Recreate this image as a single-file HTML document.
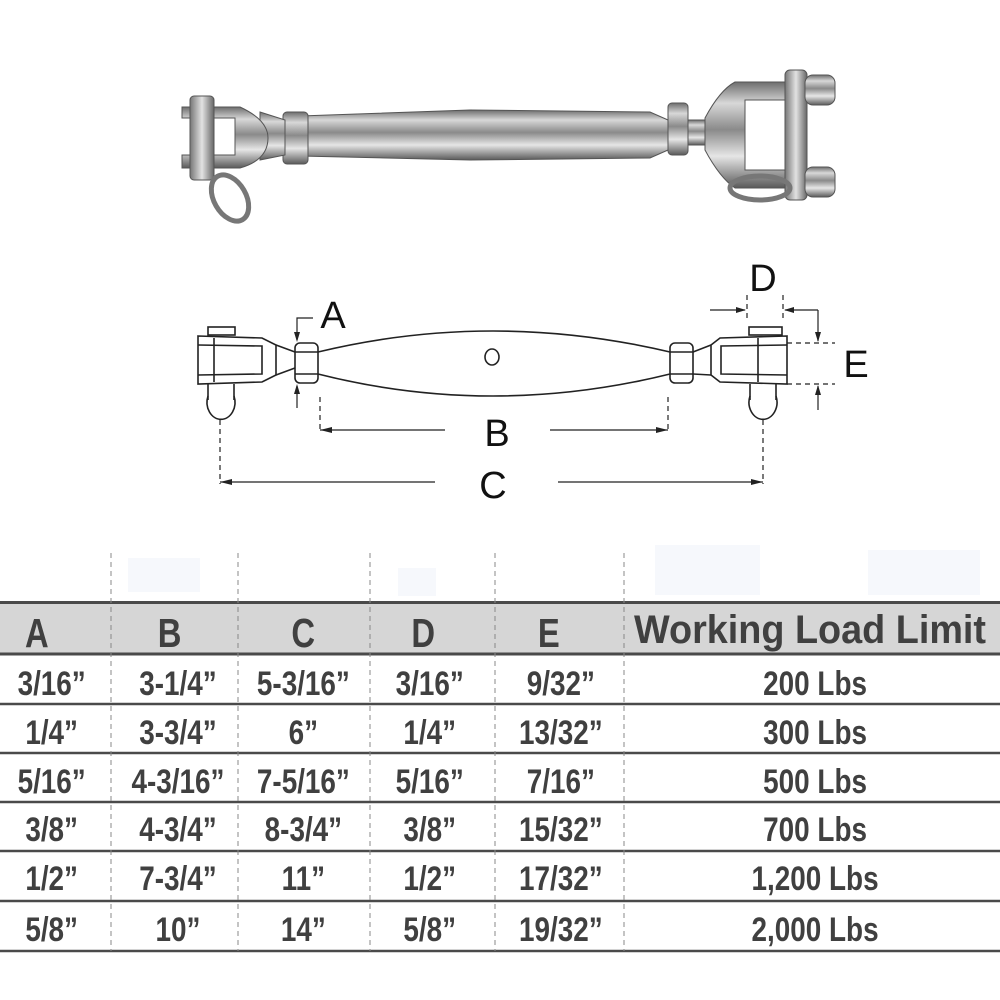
<!DOCTYPE html>
<html><head><meta charset="utf-8"><style>
html,body{margin:0;padding:0;background:#fff;width:1000px;height:1000px;overflow:hidden}
svg{display:block}
.t{font-family:"Liberation Sans",Arial,sans-serif;fill:#404040;font-weight:bold}
</style></head><body>
<svg width="1000" height="1000" viewBox="0 0 1000 1000" xmlns="http://www.w3.org/2000/svg">
<defs>
<linearGradient id="m" x1="0" y1="0" x2="0" y2="1">
<stop offset="0" stop-color="#6d6d6d"/><stop offset="0.2" stop-color="#d8d8d8"/><stop offset="0.45" stop-color="#8a8a8a"/><stop offset="0.7" stop-color="#e6e6e6"/><stop offset="1" stop-color="#5a5a5a"/></linearGradient>
<linearGradient id="m2" x1="0" y1="0" x2="1" y2="0">
<stop offset="0" stop-color="#777"/><stop offset="0.5" stop-color="#e2e2e2"/><stop offset="1" stop-color="#666"/></linearGradient>
</defs>
<!-- photo -->
<g stroke="#555" stroke-width="1">
<path d="M300 116 L470 110 L650 112 L668 120 L668 150 L650 158 L470 160 L300 156 Z" fill="url(#m)"/>
<rect x="283" y="112" width="25" height="52" rx="4" fill="url(#m)"/>
<rect x="668" y="103" width="20" height="52" rx="4" fill="url(#m)"/>
<rect x="688" y="120" width="20" height="25" fill="url(#m)"/>
<path d="M260 112 L285 120 L285 155 L260 160 Z" fill="url(#m)"/>
<path d="M182 107 L240 107 Q268 120 268 138 Q268 160 240 168 L182 168 L182 155 L235 155 L235 118 L182 118 Z" fill="url(#m)"/>
<rect x="190" y="96" width="24" height="84" rx="4" fill="url(#m2)"/>
<ellipse cx="230" cy="198" rx="16" ry="25" fill="none" stroke="#777" stroke-width="5" transform="rotate(-30 230 198)"/>
<path d="M705 118 Q720 90 735 82 L828 82 L828 100 L745 100 L745 170 L828 170 L828 188 L735 188 Q720 178 705 150 Z" fill="url(#m)"/>
<rect x="785" y="70" width="22" height="130" rx="5" fill="url(#m2)"/>
<rect x="805" y="75" width="30" height="30" rx="8" fill="url(#m)"/>
<rect x="805" y="167" width="30" height="30" rx="8" fill="url(#m)"/>
<ellipse cx="760" cy="188" rx="30" ry="12" fill="none" stroke="#777" stroke-width="5"/>
</g>
<!-- line drawing -->
<g fill="none" stroke="#222" stroke-width="1.6">
<rect x="208" y="327" width="27" height="8"/>
<path d="M198 336 L262 338 L276 345 L276 375 L262 382 L198 384 Z"/>
<path d="M198 345 L262 346 L262 374 L198 375"/>
<line x1="214" y1="338" x2="214" y2="382"/>
<path d="M276 345 L295 352 M276 375 L295 368"/>
<rect x="295" y="343" width="23" height="40" rx="5"/>
<line x1="295" y1="352" x2="318" y2="352"/><line x1="295" y1="374" x2="318" y2="374"/>
<path d="M318 352 Q492 310 670 352"/>
<path d="M318 374 Q492 418 670 374"/>
<ellipse cx="492" cy="357" rx="7" ry="8"/>
<rect x="670" y="343" width="23" height="40" rx="5"/>
<line x1="670" y1="352" x2="693" y2="352"/><line x1="670" y1="374" x2="693" y2="374"/>
<path d="M693 352 L711 345 M693 374 L711 375"/>
<path d="M787 336 L720 338 L711 345 L711 375 L720 382 L787 384 Z"/>
<path d="M787 345 L721 346 L721 374 L787 375"/>
<rect x="749" y="327" width="33" height="8"/>
<line x1="758" y1="338" x2="758" y2="382"/>
<path d="M208 396 A14 17 0 1 0 234 396"/><line x1="208" y1="384" x2="208" y2="400"/><line x1="234" y1="384" x2="234" y2="400"/>
<path d="M750 396 A14 17 0 1 0 776 396"/><line x1="750" y1="384" x2="750" y2="400"/><line x1="776" y1="384" x2="776" y2="400"/>
</g>
<g stroke="#222" stroke-width="1.2" fill="none">
<g stroke-dasharray="5,4">
<line x1="320" y1="397" x2="320" y2="432"/><line x1="668" y1="397" x2="668" y2="432"/>
<line x1="220" y1="420" x2="220" y2="484"/><line x1="763" y1="420" x2="763" y2="484"/>
<line x1="747" y1="295" x2="747" y2="320"/><line x1="783" y1="295" x2="783" y2="320"/>
<line x1="787" y1="343" x2="835" y2="343"/><line x1="787" y1="384" x2="835" y2="384"/>
</g>
<line x1="320" y1="430" x2="445" y2="430"/><line x1="550" y1="430" x2="668" y2="430"/>
<line x1="220" y1="482" x2="435" y2="482"/><line x1="558" y1="482" x2="763" y2="482"/>
<path d="M297 340 L297 318 L313 318"/><line x1="297" y1="386" x2="297" y2="408"/>
<line x1="710" y1="310" x2="745" y2="310"/><line x1="785" y1="310" x2="818" y2="310"/><line x1="818" y1="310" x2="818" y2="341"/>
<line x1="818" y1="386" x2="818" y2="410"/>
</g>
<g fill="#222">
<path d="M320 430 l12 -3 v6z"/><path d="M668 430 l-12 -3 v6z"/>
<path d="M220 482 l12 -3 v6z"/><path d="M763 482 l-12 -3 v6z"/>
<path d="M297 342 l-3 -10 h6z"/><path d="M297 384 l-3 10 h6z"/>
<path d="M746 310 l-10 -3 v6z"/><path d="M784 310 l10 -3 v6z"/>
<path d="M818 342 l-3 -10 h6z"/><path d="M818 385 l-3 10 h6z"/>
</g>
<g font-family="Liberation Sans,Arial,sans-serif" font-size="38" fill="#111">
<text x="333" y="328" text-anchor="middle">A</text>
<text x="497" y="446" text-anchor="middle">B</text>
<text x="493" y="498" text-anchor="middle">C</text>
<text x="763" y="291" text-anchor="middle">D</text>
<text x="856" y="377" text-anchor="middle">E</text>
</g>
<!-- table -->
<rect x="128" y="558" width="72" height="34" fill="#f6f8fc"/>
<rect x="398" y="568" width="38" height="28" fill="#f6f8fc"/>
<rect x="655" y="545" width="105" height="50" fill="#f6f8fc"/>
<rect x="868" y="550" width="112" height="45" fill="#f6f8fc"/>
<rect x="0" y="604" width="1000" height="49" fill="#d6d6d6"/>
<g stroke="#4a4a4a">
<line x1="0" y1="602.5" x2="1000" y2="602.5" stroke-width="3"/>
<line x1="0" y1="654" x2="1000" y2="654" stroke-width="3"/>
<line x1="0" y1="704" x2="1000" y2="704" stroke-width="2.5"/>
<line x1="0" y1="753" x2="1000" y2="753" stroke-width="2.5"/>
<line x1="0" y1="802" x2="1000" y2="802" stroke-width="2.5"/>
<line x1="0" y1="851" x2="1000" y2="851" stroke-width="2.5"/>
<line x1="0" y1="901" x2="1000" y2="901" stroke-width="2.5"/>
<line x1="0" y1="951" x2="1000" y2="951" stroke-width="2.5"/>
</g>
<g stroke="#888" stroke-width="1" stroke-dasharray="5,4">
<line x1="111" y1="553" x2="111" y2="951"/><line x1="238" y1="553" x2="238" y2="951"/>
<line x1="370" y1="553" x2="370" y2="951"/><line x1="495" y1="553" x2="495" y2="951"/>
<line x1="624" y1="553" x2="624" y2="951"/>
</g>
<g class="t" font-size="41" text-anchor="middle" transform="scale(0.8 1)">
<text x="46" y="647">A</text>
<text x="212" y="647">B</text>
<text x="379" y="647">C</text>
<text x="529" y="647">D</text>
<text x="686" y="647">E</text>
</g>
<g class="t" font-size="40" text-anchor="middle">
<text x="810" y="643" textLength="352" lengthAdjust="spacingAndGlyphs">Working Load Limit</text>
</g>
<g class="t" font-size="34" text-anchor="middle" transform="scale(0.82 1)">
<text x="63" y="695">3/16”</text><text x="217" y="695">3-1/4”</text><text x="370" y="695">5-3/16”</text><text x="524" y="695">3/16”</text><text x="684" y="695">9/32”</text><text x="994" y="695">200 Lbs</text>
<text x="63" y="744">1/4”</text><text x="217" y="744">3-3/4”</text><text x="370" y="744">6”</text><text x="524" y="744">1/4”</text><text x="684" y="744">13/32”</text><text x="994" y="744">300 Lbs</text>
<text x="63" y="793">5/16”</text><text x="217" y="793">4-3/16”</text><text x="370" y="793">7-5/16”</text><text x="524" y="793">5/16”</text><text x="684" y="793">7/16”</text><text x="994" y="793">500 Lbs</text>
<text x="63" y="841">3/8”</text><text x="217" y="841">4-3/4”</text><text x="370" y="841">8-3/4”</text><text x="524" y="841">3/8”</text><text x="684" y="841">15/32”</text><text x="994" y="841">700 Lbs</text>
<text x="63" y="890">1/2”</text><text x="217" y="890">7-3/4”</text><text x="370" y="890">11”</text><text x="524" y="890">1/2”</text><text x="684" y="890">17/32”</text><text x="994" y="890">1,200 Lbs</text>
<text x="63" y="941">5/8”</text><text x="217" y="941">10”</text><text x="370" y="941">14”</text><text x="524" y="941">5/8”</text><text x="684" y="941">19/32”</text><text x="994" y="941">2,000 Lbs</text>
</g>
</svg>
</body></html>
